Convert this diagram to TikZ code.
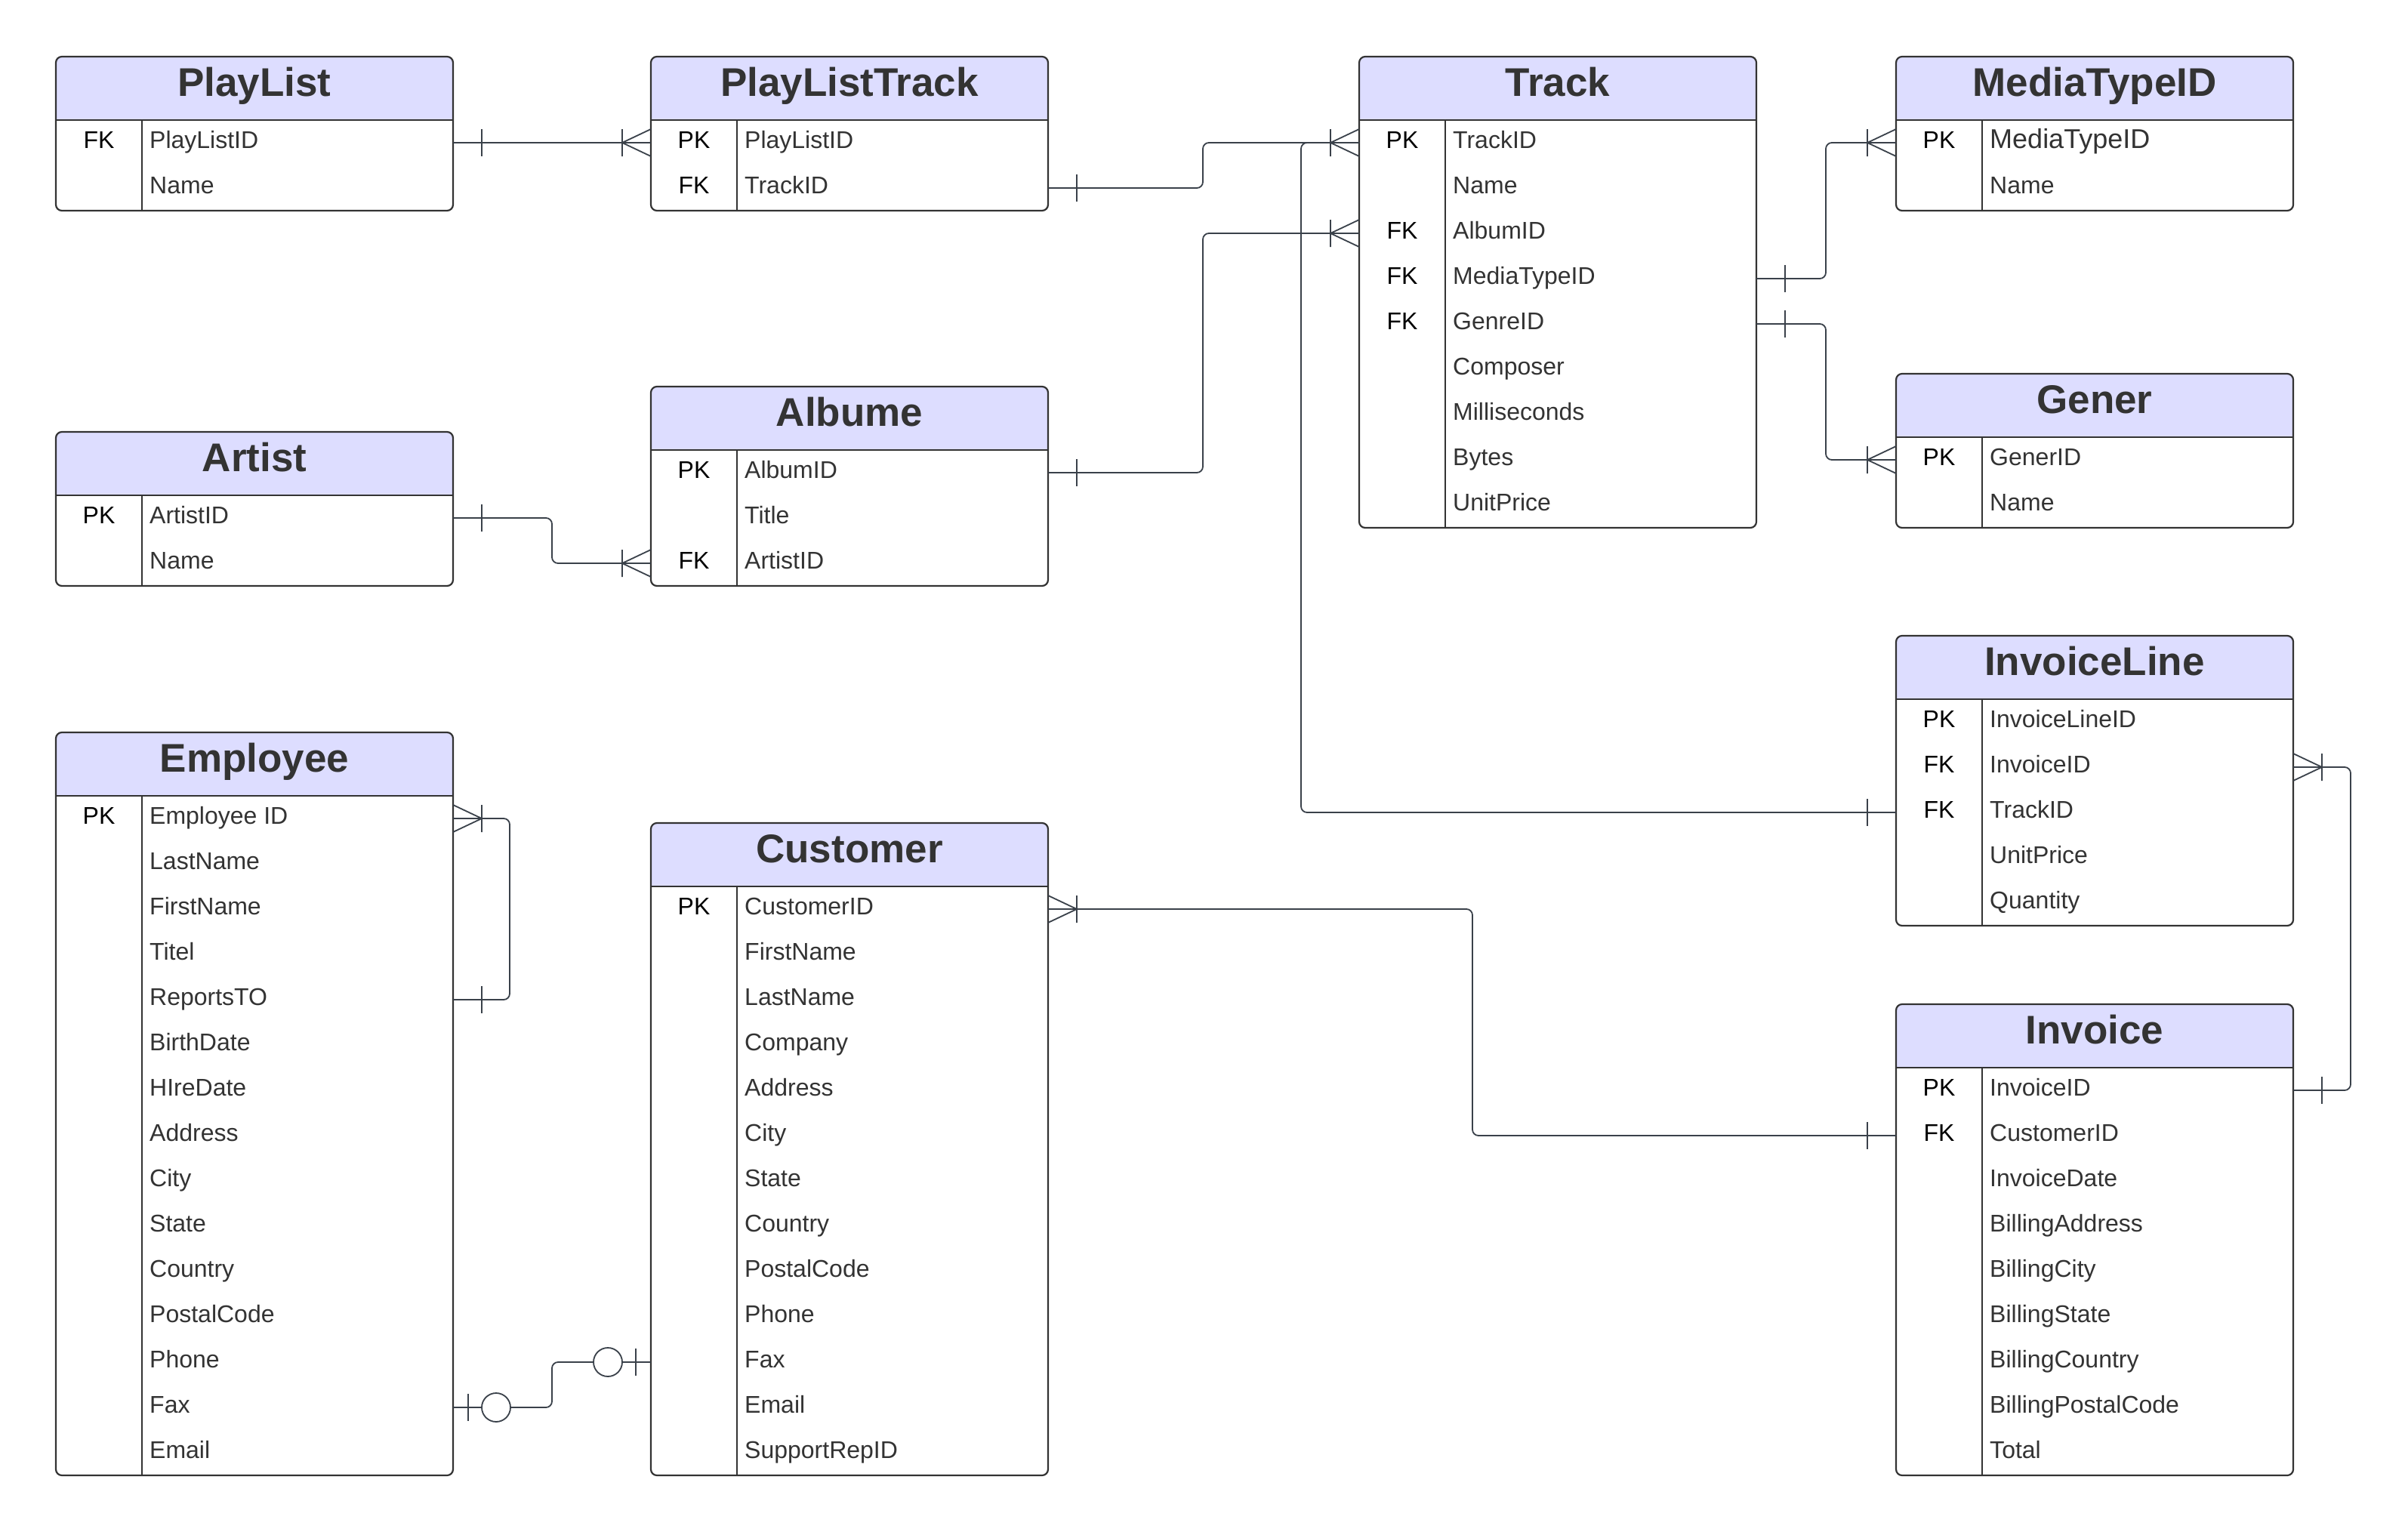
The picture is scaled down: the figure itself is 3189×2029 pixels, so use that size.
\documentclass[tikz,border=0pt]{standalone}
\usepackage{fontspec}
\setmainfont{Liberation Sans}
\usepackage{tikz}
\usetikzlibrary{calc}
\definecolor{hdfill}{RGB}{221,221,255}
\definecolor{inkline}{RGB}{58,65,74}
\definecolor{txtgray}{RGB}{51,51,51}

\newcommand{\rowfont}{\fontsize{32}{38}\selectfont}
\newcommand{\bigrow}{\fontsize{36}{42}\selectfont}

\tikzset{
  tblborder/.style={draw=txtgray, line width=2.2pt, rounded corners=8pt},
  hdline/.style={draw=txtgray, line width=2.4pt},
  keyline/.style={draw=txtgray, line width=1.6pt},
  tbltitle/.style={anchor=base, inner sep=0pt, text=txtgray,
    font=\fontsize{53}{60}\selectfont\bfseries},
  keytext/.style={anchor=base, inner sep=0pt, text=black, font=\rowfont},
  fieldtext/.style={anchor=base west, inner sep=0pt, text=txtgray, font=\rowfont},
  rowband/.style={minimum width=526pt, minimum height=60pt, inner sep=0pt, outer sep=0pt},
  rel/.style={draw=inkline, line width=1.8pt},
  relpath/.style={rel, rounded corners=8pt}
}

% table: #1 name, #2 left, #3 top, #4 title, #5 rows, #6 key/field list
\newcommand{\erdtable}[6]{%
  \begin{scope}
    \clip[rounded corners=8pt] (#2,#3) rectangle ({#2+526},{#3+84+60*#5});
    \fill[hdfill] (#2,#3) rectangle ({#2+526},{#3+84});
  \end{scope}
  \draw[hdline] (#2,{#3+84}) -- ({#2+526},{#3+84});
  \draw[keyline] ({#2+114},{#3+84}) -- ({#2+114},{#3+84+60*#5});
  \draw[tblborder] (#2,#3) rectangle ({#2+526},{#3+84+60*#5});
  \node[tbltitle] (#1-t) at ({#2+263},{#3+52}) {#4};
  \foreach \k/\f [count=\i] in {#6} {
    \node[rowband] (#1-\i) at ({#2+263},{#3+54+60*\i}) {};
    \node[keytext] (#1-\i-k) at ({#2+57},{#3+61+60*\i}) {\k};
    \node[fieldtext] (#1-\i-f) at ({#2+124},{#3+61+60*\i}) {\f};
  }
}

% ends: #1 edge point, #2 side (1 right, -1 left)
\newcommand{\manyend}[2]{%
  \draw[rel] ($(#1)+(#2*38,0)$) -- ($(#1)+(0,18)$)
             ($(#1)+(#2*38,0)$) -- ($(#1)+(0,-18)$)
             ($(#1)+(#2*38,-18)$) -- ($(#1)+(#2*38,18)$);}
\newcommand{\oneend}[2]{%
  \draw[rel] ($(#1)+(#2*38,-18)$) -- ($(#1)+(#2*38,18)$);}
\newcommand{\zeroend}[2]{%
  \draw[rel] ($(#1)+(#2*20,-18)$) -- ($(#1)+(#2*20,18)$);
  \draw[rel, fill=white] ($(#1)+(#2*57,0)$) circle (19pt);}

\begin{document}
\begin{tikzpicture}[x=1pt, y=-1pt]
\fill[white] (0,0) rectangle (3189,2029);
\useasboundingbox (0,0) rectangle (3189,2029);

% Tables
\erdtable{pl}{74}{75}{PlayList}{2}{FK/PlayListID, {}/Name}
\erdtable{plt}{862}{75}{PlayListTrack}{2}{PK/PlayListID, FK/TrackID}
\erdtable{trk}{1800}{75}{Track}{9}{PK/TrackID, {}/Name, FK/AlbumID,
  FK/MediaTypeID, FK/GenreID, {}/Composer, {}/Milliseconds, {}/Bytes, {}/UnitPrice}
\erdtable{med}{2511}{75}{MediaTypeID}{2}{PK/{\bigrow MediaTypeID}, {}/Name}
\erdtable{gen}{2511}{495}{Gener}{2}{PK/GenerID, {}/Name}
\erdtable{art}{74}{572}{Artist}{2}{PK/ArtistID, {}/Name}
\erdtable{alb}{862}{512}{Albume}{3}{PK/AlbumID, {}/Title, FK/ArtistID}
\erdtable{inl}{2511}{842}{InvoiceLine}{5}{PK/InvoiceLineID, FK/InvoiceID,
  FK/TrackID, {}/UnitPrice, {}/Quantity}
\erdtable{inv}{2511}{1330}{Invoice}{9}{PK/InvoiceID, FK/CustomerID,
  {}/InvoiceDate, {}/BillingAddress, {}/BillingCity, {}/BillingState,
  {}/BillingCountry, {}/BillingPostalCode, {}/Total}
\erdtable{emp}{74}{970}{Employee}{15}{PK/Employee ID, {}/LastName,
  {}/FirstName, {}/Titel, {}/ReportsTO, {}/BirthDate, {}/HIreDate,
  {}/Address, {}/City, {}/State, {}/Country, {}/PostalCode, {}/Phone,
  {}/Fax, {}/Email}
\erdtable{cus}{862}{1090}{Customer}{13}{PK/CustomerID, {}/FirstName,
  {}/LastName, {}/Company, {}/Address, {}/City, {}/State, {}/Country,
  {}/PostalCode, {}/Phone, {}/Fax, {}/Email, {}/SupportRepID}

% Bend columns
\coordinate (mid-a) at (731,0);
\coordinate (loop-e) at (675,0);
\coordinate (mid-b) at (1593,0);
\coordinate (mid-c) at (1723,0);
\coordinate (mid-f) at (1950,0);
\coordinate (mid-d) at (2418,0);
\coordinate (loop-i) at (3113,0);

% PlayList -- PlayListTrack
\draw[rel] (pl-1.east) -- (plt-1.west);
\oneend{pl-1.east}{1}
\manyend{plt-1.west}{-1}
% PlayListTrack -- Track
\draw[relpath] (plt-2.east) -- (plt-2.east -| mid-b) |- (trk-1.west);
\oneend{plt-2.east}{1}
% Albume -- Track
\draw[relpath] (alb-1.east) -- (alb-1.east -| mid-b) |- (trk-3.west);
\oneend{alb-1.east}{1}
\manyend{trk-3.west}{-1}
% InvoiceLine -- Track
\draw[relpath] (inl-3.west) -- (inl-3.west -| mid-c) |- (trk-1.west);
\oneend{inl-3.west}{-1}
\manyend{trk-1.west}{-1}
% Track -- MediaTypeID
\draw[relpath] (trk-4.east) -- (trk-4.east -| mid-d) |- (med-1.west);
\oneend{trk-4.east}{1}
\manyend{med-1.west}{-1}
% Track -- Gener
\draw[relpath] (trk-5.east) -- (trk-5.east -| mid-d) |- (gen-1.west);
\oneend{trk-5.east}{1}
\manyend{gen-1.west}{-1}
% Artist -- Albume
\draw[relpath] (art-1.east) -- (art-1.east -| mid-a) |- (alb-3.west);
\oneend{art-1.east}{1}
\manyend{alb-3.west}{-1}
% Employee reports to
\draw[relpath] (emp-1.east) -- (emp-1.east -| loop-e) |- (emp-5.east);
\manyend{emp-1.east}{1}
\oneend{emp-5.east}{1}
% Customer -- Invoice
\draw[relpath] (cus-1.east) -- (cus-1.east -| mid-f) |- (inv-2.west);
\manyend{cus-1.east}{1}
\oneend{inv-2.west}{-1}
% InvoiceLine -- Invoice
\draw[relpath] (inl-2.east) -- (inl-2.east -| loop-i) |- (inv-1.east);
\manyend{inl-2.east}{1}
\oneend{inv-1.east}{1}
% Employee -- Customer (support rep)
\draw[relpath] (emp-14.east) -- (emp-14.east -| mid-a) |- (cus-11.west);
\zeroend{emp-14.east}{1}
\zeroend{cus-11.west}{-1}
\end{tikzpicture}
\end{document}
